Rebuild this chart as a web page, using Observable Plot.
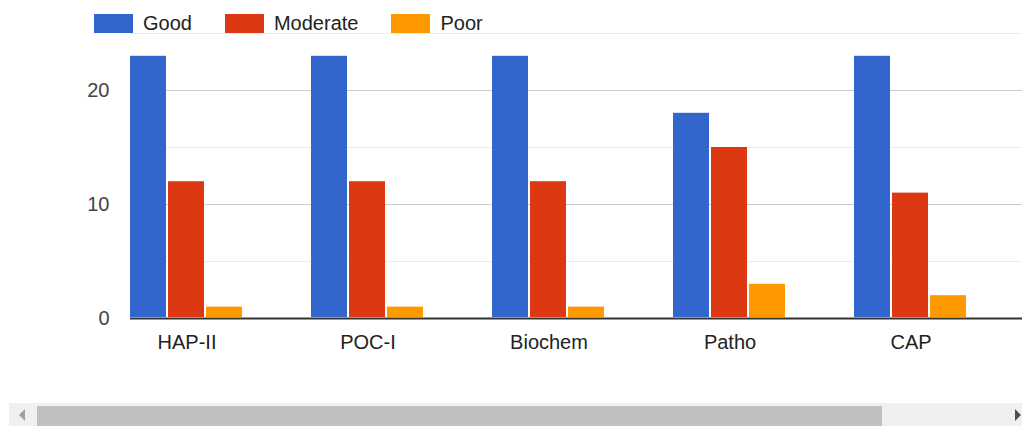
<!DOCTYPE html>
<html>
<head>
<meta charset="utf-8">
<script src="https://cdn.jsdelivr.net/npm/d3@7"></script>
<script src="https://cdn.jsdelivr.net/npm/@observablehq/plot@0.6"></script>
<style>
  body { margin: 0; background: #fff; font-family: Arial, "Liberation Sans", sans-serif; }
  #wrap { position: relative; width: 1022px; height: 426px; overflow: hidden; }
  #chart { position: absolute; left: 0; top: 0; }
  #legend { position: absolute; left: 94px; top: 12px; display: flex; align-items: center; font-size: 20px; color: #222; }
  .item { display: flex; align-items: center; margin-right: 33px; }
  .sw { width: 39px; height: 19px; margin-right: 10px; }
  #track { position: absolute; left: 9px; top: 403px; width: 1013px; height: 23px; background: #f0f0f0; }
  #thumb { position: absolute; left: 37px; top: 406px; width: 845px; height: 20px; background: #c0c0c0; }
  #larr { position: absolute; left: 19px; top: 409px; width: 0; height: 0; border-top: 6px solid transparent; border-bottom: 6px solid transparent; border-right: 6px solid #a0a0a0; }
  #rarr { position: absolute; left: 1015px; top: 409px; width: 0; height: 0; border-top: 6px solid transparent; border-bottom: 6px solid transparent; border-left: 6px solid #505050; }
</style>
</head>
<body>
<div id="wrap">
  <div id="chart"></div>
  <div id="legend"></div>
  <div id="track"></div>
  <div id="thumb"></div>
  <div id="larr"></div>
  <div id="rarr"></div>
</div>
<script>
const categories = ["HAP-II", "POC-I", "Biochem", "Patho", "CAP"];
const seriesNames = ["Good", "Moderate", "Poor"];
const seriesColors = ["#3366cc", "#dc3912", "#ff9900"];
const good = [23, 23, 23, 18, 23];
const moderate = [12, 12, 12, 15, 11];
const poor = [1, 1, 1, 3, 2];
const majorTicks = [0, 10, 20];
const minorTicks = [5, 15, 25];

const seriesValues = [good, moderate, poor];
const data = [];
categories.forEach((c, i) => {
  seriesNames.forEach((s, j) => data.push({category: c, series: s, value: seriesValues[j][i]}));
});

const W = 1022, ML = 93, MR = 0;
const gridLen = -(W - ML - MR);
const blank = () => "";

const chart = Plot.plot({
  width: W,
  height: 400,
  marginTop: 33,
  marginBottom: 82,
  marginLeft: ML,
  marginRight: MR,
  style: { fontFamily: "Arial, 'Liberation Sans', sans-serif", fontSize: "20px", color: "#444", background: "#fff" },
  fx: { domain: categories, paddingInner: 0.377, paddingOuter: 0.248, align: 0.4, label: null },
  x: { domain: seriesNames, paddingInner: 0.05, paddingOuter: 0, axis: null },
  y: { domain: [0, 25], label: null },
  color: { domain: seriesNames, range: seriesColors },
  marks: [
    Plot.axisY({ ticks: minorTicks, tickSize: gridLen, tickFormat: blank, stroke: "#ebebeb", strokeWidth: 1, label: null }),
    Plot.axisY({ ticks: [10, 20], tickSize: gridLen, tickFormat: blank, stroke: "#cccccc", strokeWidth: 1, label: null }),
    Plot.axisY({ ticks: majorTicks, tickSize: 0, tickPadding: 21, fill: "#444", label: null }),
    Plot.axisFx({ anchor: "bottom", tickSize: 0, tickPadding: 16, fill: "#222", label: null }),
    Plot.barY(data, { fx: "category", x: "series", y: "value", fill: "series", insetBottom: 1 }),
    Plot.axisY({ ticks: [0], tickSize: gridLen, tickFormat: blank, stroke: "#333333", strokeWidth: 2, label: null })
  ]
});
document.getElementById("chart").appendChild(chart);

const legend = document.getElementById("legend");
seriesNames.forEach((s, i) => {
  const item = document.createElement("div");
  item.className = "item";
  const sw = document.createElement("div");
  sw.className = "sw";
  sw.style.background = seriesColors[i];
  const t = document.createElement("span");
  t.textContent = s;
  item.appendChild(sw);
  item.appendChild(t);
  legend.appendChild(item);
});
</script>
</body>
</html>
